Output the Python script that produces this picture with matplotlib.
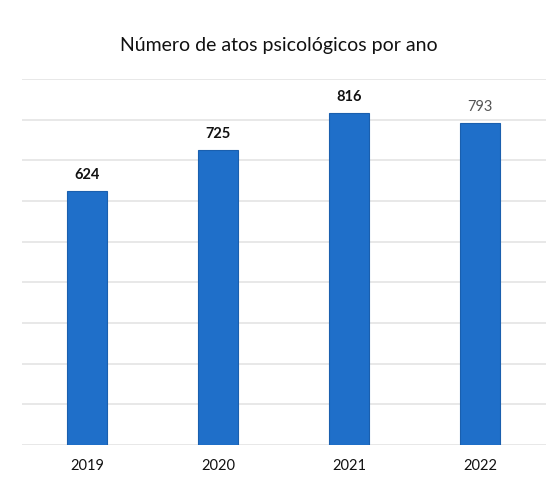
import matplotlib.pyplot as plt

# dados do gráfico
anos = ['2019', '2020', '2021', '2022']
atos = [624, 725, 816, 793]
cores_rotulo = ['#111111', '#111111', '#111111', '#555555']

plt.rcParams['font.family'] = ['Lato', 'DejaVu Sans']

fig = plt.figure(figsize=(5.58, 4.84), dpi=100)
ax = fig.add_axes([21.5 / 558, 1 - 445 / 484, 524 / 558, (445 - 79) / 484])

x = range(len(anos))
barras = ax.bar(x, atos, width=0.31, color='#1f6fc9', edgecolor='#1a5fae',
                linewidth=0.8, zorder=3)

for xi, v, c in zip(x, atos, cores_rotulo):
    ax.text(xi, v + 22, str(v), ha='center', va='bottom', fontsize=10.5,
            color=c, fontweight='bold' if c == '#111111' else 'normal')

ax.set_xlim(-0.5, 3.5)
ax.set_ylim(0, 900)
ax.set_yticks(range(0, 901, 100))
ax.yaxis.grid(True, color='#e4e4e4', linewidth=1.2, zorder=0)
ax.set_yticklabels([])
ax.tick_params(axis='y', length=0)
ax.set_xticks(list(x))
ax.set_xticklabels(anos, fontsize=10.5, color='#111111')
ax.tick_params(axis='x', length=0, pad=10)
for s in ax.spines.values():
    s.set_visible(False)

fig.text(0.5, 1 - 45 / 484, 'Número de atos psicológicos por ano', ha='center',
         va='center', fontsize=14, color='#111111')

fig.savefig('out.png', dpi=100)
